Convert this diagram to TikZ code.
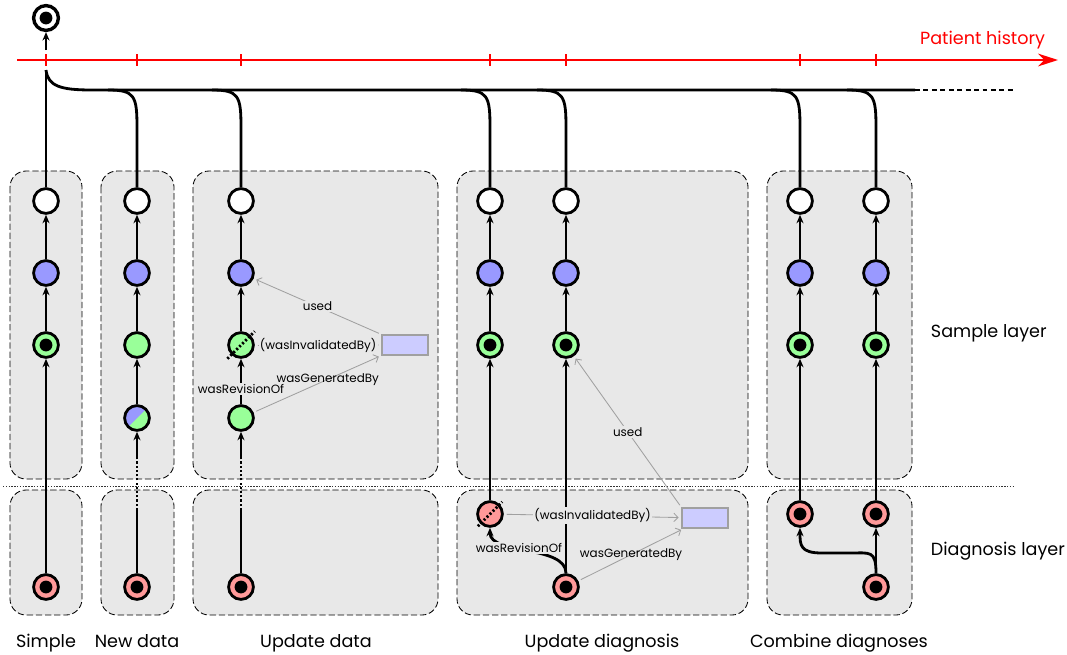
\documentclass[tikz,border=0pt]{standalone}
\usepackage{fontspec}
\setmainfont{Poppins}
\usetikzlibrary{arrows.meta, calc}

\definecolor{histred}{HTML}{FF0000}
\definecolor{entblue}{HTML}{9999FF}
\definecolor{entgreen}{HTML}{99FF99}
\definecolor{entpink}{HTML}{FF9999}
\definecolor{boxgray}{HTML}{E8E8E8}
\definecolor{actfill}{HTML}{CCCCFF}
\definecolor{actgray}{HTML}{A0A0A0}
\definecolor{provgray}{HTML}{A0A0A0}

\tikzset{
  ent/.style={circle, draw=black, line width=2pt, minimum size=0.62cm, inner sep=0pt, fill=white},
  bluent/.style={ent, fill=entblue},
  greenent/.style={ent, fill=entgreen},
  pinkent/.style={ent, fill=entpink},
  dotent/.style={path picture={\fill[black] (path picture bounding box.center) circle (0.16cm);}},
  halfent/.style={ent, fill=entgreen, path picture={\fill[entblue] (path picture bounding box.south west) -- (path picture bounding box.north west) -- (path picture bounding box.north east) -- cycle;}},
  act/.style={draw=actgray, fill=actfill, line width=0.8pt, minimum width=1.15cm, minimum height=0.5cm, inner sep=0pt},
  layerbox/.style={draw=black, fill=boxgray, line width=0.6pt, dash pattern=on 4.5pt off 2pt, rounded corners=0.4cm},
  flow/.style={draw=black, line width=2pt},
  derive/.style={flow, -{Stealth[length=6pt, width=5pt]}},
  prov/.style={draw=provgray, line width=0.6pt, -{Straight Barb[length=3pt, width=6pt]}, shorten >=2pt, shorten <=2pt},
  provlabel/.style={font=\fontsize{8.5}{10}\selectfont, inner sep=1pt},
  crossout/.style={draw=black, line width=2pt, dash pattern=on 1.5pt off 1.5pt},
  caption/.style={font=\fontsize{12.5}{15}\selectfont, anchor=base},
  timeline/.style={draw=histred, line width=1.2pt, -{Stealth[length=0.5cm, width=0.32cm]}},
  histtick/.style={draw=histred, line width=0.8pt},
}

\begin{document}
\begin{tikzpicture}[x=0.025cm, y=-0.025cm]
    \useasboundingbox (0,0) rectangle (1067,654);

    % grey boxes of the sample layer
    \draw[layerbox] (10,171) rectangle (82,479);
    \draw[layerbox] (101,171) rectangle (174,479);
    \draw[layerbox] (193,171) rectangle (438,479);
    \draw[layerbox] (457,171) rectangle (748,479);
    \draw[layerbox] (767,171) rectangle (912,479);
    % and of the diagnosis layer
    \draw[layerbox] (10,490) rectangle (82,615);
    \draw[layerbox] (101,490) rectangle (174,615);
    \draw[layerbox] (193,490) rectangle (438,615);
    \draw[layerbox] (457,490) rectangle (748,615);
    \draw[layerbox] (767,490) rectangle (912,615);

    % dotted line between the two layers
    \draw[black!80, line width=0.6pt, dash pattern=on 1pt off 1pt] (3,486) -- (1013,486);

    % red time axis with one tick per column
    \coordinate (tstart) at (17,60);
    \coordinate (tend) at (1058,60);
    \draw[timeline] (tstart) -- (tend);
    \node[caption, anchor=base east, text=histred] (history) at (1050,44) {Patient history};
    \draw[histtick] (46,54) -- (46,66);
    \draw[histtick] (137,54) -- (137,66);
    \draw[histtick] (241,54) -- (241,66);
    \draw[histtick] (490,54) -- (490,66);
    \draw[histtick] (566,54) -- (566,66);
    \draw[histtick] (800,54) -- (800,66);
    \draw[histtick] (876,54) -- (876,66);

    % start of the history
    \node[ent, line width=2.4pt, dotent] (start) at (46,18) {};

    % Simple
    \node[ent] (w1) at (46,201) {};
    \node[bluent] (b1) at (46,273) {};
    \node[greenent, dotent] (g1) at (46,345) {};
    \node[pinkent, dotent] (p1) at (46,587) {};

    % New data
    \node[ent] (w2) at (137,201) {};
    \node[bluent] (b2) at (137,273) {};
    \node[greenent] (g2) at (137,345) {};
    \node[halfent] (h2) at (137,418) {};
    \node[pinkent, dotent] (p2) at (137,587) {};

    % Update data
    \node[ent] (w3) at (241,201) {};
    \node[bluent] (b3) at (241,273) {};
    \node[greenent] (g3) at (241,345) {};
    \node[greenent] (r3) at (241,418) {};
    \node[pinkent, dotent] (p3) at (241,587) {};
    \node[act] (act3) at (405,345) {};

    % Update diagnosis
    \node[ent] (w4) at (490,201) {};
    \node[bluent] (b4) at (490,273) {};
    \node[greenent, dotent] (g4) at (490,345) {};
    \node[pinkent] (x4) at (490,514) {};
    \node[ent] (w5) at (566,201) {};
    \node[bluent] (b5) at (566,273) {};
    \node[greenent, dotent] (g5) at (566,345) {};
    \node[pinkent, dotent] (p5) at (566,587) {};
    \node[act] (act5) at (705,518) {};

    % Combine diagnoses
    \node[ent] (w6) at (800,201) {};
    \node[bluent] (b6) at (800,273) {};
    \node[greenent, dotent] (g6) at (800,345) {};
    \node[pinkent, dotent] (p6) at (800,514) {};
    \node[ent] (w7) at (876,201) {};
    \node[bluent] (b7) at (876,273) {};
    \node[greenent, dotent] (g7) at (876,345) {};
    \node[pinkent, dotent] (p7) at (876,514) {};
    \node[pinkent, dotent] (q7) at (876,587) {};

    % trunk up to the start, broken where it meets the axis
    \coordinate (gapbot) at (46,70);
    \coordinate (gaptop) at (46,50);
    \coordinate (mainend) at (915,90);
    \coordinate (dashend) at (1013,90);
    \draw[flow] (w1) -- (gapbot);
    \draw[derive] (gaptop) -- (start);
    \draw[flow] (gapbot) .. controls (48,86) and (60,90) .. (92,90) -- (mainend);
    \draw[flow, dash pattern=on 3.5pt off 2.5pt] (mainend) -- (dashend);

    % branches down to each column
    \draw[flow] (108,90) .. controls (135,90) and (137,96) .. (137,128) -- (w2);
    \draw[flow] (212,90) .. controls (239,90) and (241,96) .. (241,128) -- (w3);
    \draw[flow] (461,90) .. controls (488,90) and (490,96) .. (490,128) -- (w4);
    \draw[flow] (537,90) .. controls (564,90) and (566,96) .. (566,128) -- (w5);
    \draw[flow] (771,90) .. controls (798,90) and (800,96) .. (800,128) -- (w6);
    \draw[flow] (847,90) .. controls (874,90) and (876,96) .. (876,128) -- (w7);

    % Simple
    \draw[derive] (b1) -- (w1);
    \draw[derive] (g1) -- (b1);
    \draw[derive] (p1) -- (g1);

    % New data
    \coordinate (d2a) at (137,510);
    \coordinate (d2b) at (137,458);
    \draw[derive] (b2) -- (w2);
    \draw[derive] (g2) -- (b2);
    \draw[derive] (h2) -- (g2);
    \draw[flow] (p2) -- (d2a);
    \draw[flow, dash pattern=on 1.5pt off 1.5pt] (d2a) -- (d2b);
    \draw[derive] (d2b) -- (h2);

    % Update data
    \coordinate (d3a) at (241,510);
    \coordinate (d3b) at (241,458);
    \draw[derive] (b3) -- (w3);
    \draw[derive] (g3) -- (b3);
    \draw[derive] (r3) -- node[provlabel, fill=boxgray, pos=0.33] (rev3) {wasRevisionOf} (g3);
    \draw[flow] (p3) -- (d3a);
    \draw[flow, dash pattern=on 1.5pt off 1.5pt] (d3a) -- (d3b);
    \draw[derive] (d3b) -- (r3);
    \draw[crossout] ($(g3)!1.4!(g3.225)$) -- ($(g3)!1.4!(g3.45)$);
    \draw[prov] (act3.north west) -- node[provlabel, fill=boxgray] (used3) {used} (b3);
    \draw[prov] (g3) -- node[provlabel, fill=boxgray] (inv3) {(wasInvalidatedBy)} (act3);
    \draw[prov] (r3) -- node[provlabel, pos=0.58] (gen3) {wasGeneratedBy} (act3);

    % Update diagnosis
    \draw[derive] (b4) -- (w4);
    \draw[derive] (g4) -- (b4);
    \draw[derive] (x4) -- (g4);
    \draw[derive] (b5) -- (w5);
    \draw[derive] (g5) -- (b5);
    \draw[derive] (p5) -- (g5);
    \draw[derive] (p5.north) .. controls (566,545) and (490,555) .. node[provlabel, fill=boxgray, pos=0.58] (rev5) {wasRevisionOf} (x4.south);
    \draw[crossout] ($(x4)!1.25!(x4.225)$) -- ($(x4)!1.25!(x4.45)$);
    \draw[prov] (x4) -- node[provlabel, fill=boxgray] (inv5) {(wasInvalidatedBy)} (act5);
    \draw[prov] (p5) -- node[provlabel, pos=0.5] (gen5) {wasGeneratedBy} (act5);
    \draw[prov] (act5.north west) -- node[provlabel, fill=boxgray] (used5) {used} (g5);

    % Combine diagnoses
    \draw[derive] (b6) -- (w6);
    \draw[derive] (g6) -- (b6);
    \draw[derive] (p6) -- (g6);
    \draw[derive] (b7) -- (w7);
    \draw[derive] (g7) -- (b7);
    \draw[derive] (p7) -- (g7);
    \draw[derive] (q7) -- (p7);
    \draw[derive] (q7.north) .. controls (876,550) and (870,553) .. (850,553) -- (822,553) .. controls (800,553) and (800,545) .. (p6.south);

    % captions
    \node[caption] (simple) at (46,647) {Simple};
    \node[caption] (newdata) at (137,647) {New data};
    \node[caption] (updata) at (316,647) {Update data};
    \node[caption] (updiag) at (602,647) {Update diagnosis};
    \node[caption] (combine) at (839,647) {Combine diagnoses};
    \node[caption, anchor=base west] (samplelayer) at (926,337) {Sample layer};
    \node[caption, anchor=base west] (diaglayer) at (926,555) {Diagnosis layer};

\end{tikzpicture}
\end{document}
